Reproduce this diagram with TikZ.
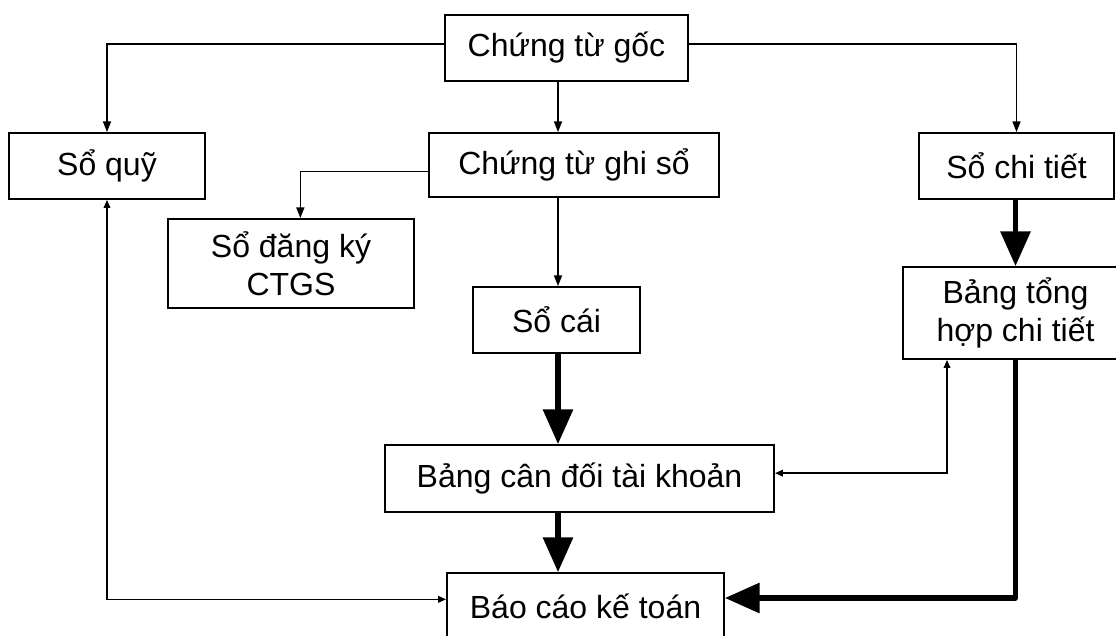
\documentclass[tikz,border=0pt]{standalone}
\usepackage{fontspec}
\setmainfont{Liberation Sans}
\usetikzlibrary{arrows.meta,calc}
\begin{document}
\begin{tikzpicture}[x=0.75pt,y=-0.75pt,
  box/.style 2 args={draw, line width=1.4pt, inner sep=0pt, align=center,
    minimum width={0.75pt*#1}, minimum height={0.75pt*#2},
    font=\fontsize{24}{28.5}\selectfont},
  thinline/.style={line width=1.1pt},
  thinarrow/.style={thinline, -{Triangle[length=8pt,width=6pt]}},
  tinyarrows/.style={thinline, {Triangle[length=6pt,width=5pt]}-{Triangle[length=6pt,width=5pt]}},
  thickarrow/.style={line width=3.8pt, line join=round, -{Triangle[length=26pt,width=22pt]}}]
\useasboundingbox (0,0) rectangle (1116,635);
\clip (0,0) rectangle (1116,635);
% nodes
\node[box={243}{66}] (goc) at (566.5,48) {Chứng từ gốc};
\node[box={196}{66}] (quy) at (107,166) {Sổ quỹ};
\node[box={290}{64}] (ctgs) at (574,165) {Chứng từ ghi sổ};
\node[box={195}{66}] (chitiet) at (1016.5,166) {Sổ chi tiết};
\node[box={246}{89}] (dk) at (291,263.5) {Sổ đăng ký\\CTGS};
\node[box={167}{66}] (socai) at (556.5,320) {Sổ cái};
\node[box={225}{92}] (bth) at (1015.5,313) {Bảng tổng\\hợp chi tiết};
\node[box={389}{67}] (cdtk) at (579.5,478.5) {Bảng cân đối tài khoản};
\node[box={277}{66}] (bc) at (585.5,606) {Báo cáo kế toán};
\coordinate (vx) at (947,0);
\coordinate (mx) at (558,0);
% thin connectors
\draw[thinarrow] ([yshift=3pt]goc.west) -| (quy.north);
\draw[thinarrow] ([yshift=3pt]goc.east) -| (chitiet.north);
\draw[thinarrow] (goc.south -| mx) -- (ctgs.north -| mx);
\draw[thinarrow] ([yshift=-5pt]ctgs.west) -| ([xshift=7pt]dk.north);
\draw[thinarrow] (ctgs.south -| mx) -- (socai.north -| mx);
\draw[tinyarrows] ([yshift=4pt]cdtk.east) -| (bth.south -| vx);
\draw[tinyarrows] (quy.south) |- ([yshift=5pt]bc.west);
% thick connectors
\draw[thickarrow] (socai.south -| mx) -- (cdtk.north -| mx);
\draw[thickarrow] (cdtk.south -| mx) -- (bc.north -| mx);
\draw[thickarrow] (chitiet.south -| bth) -- (bth.north);
\draw[thickarrow] (bth.south) |- ([yshift=6pt]bc.east);
\end{tikzpicture}
\end{document}
